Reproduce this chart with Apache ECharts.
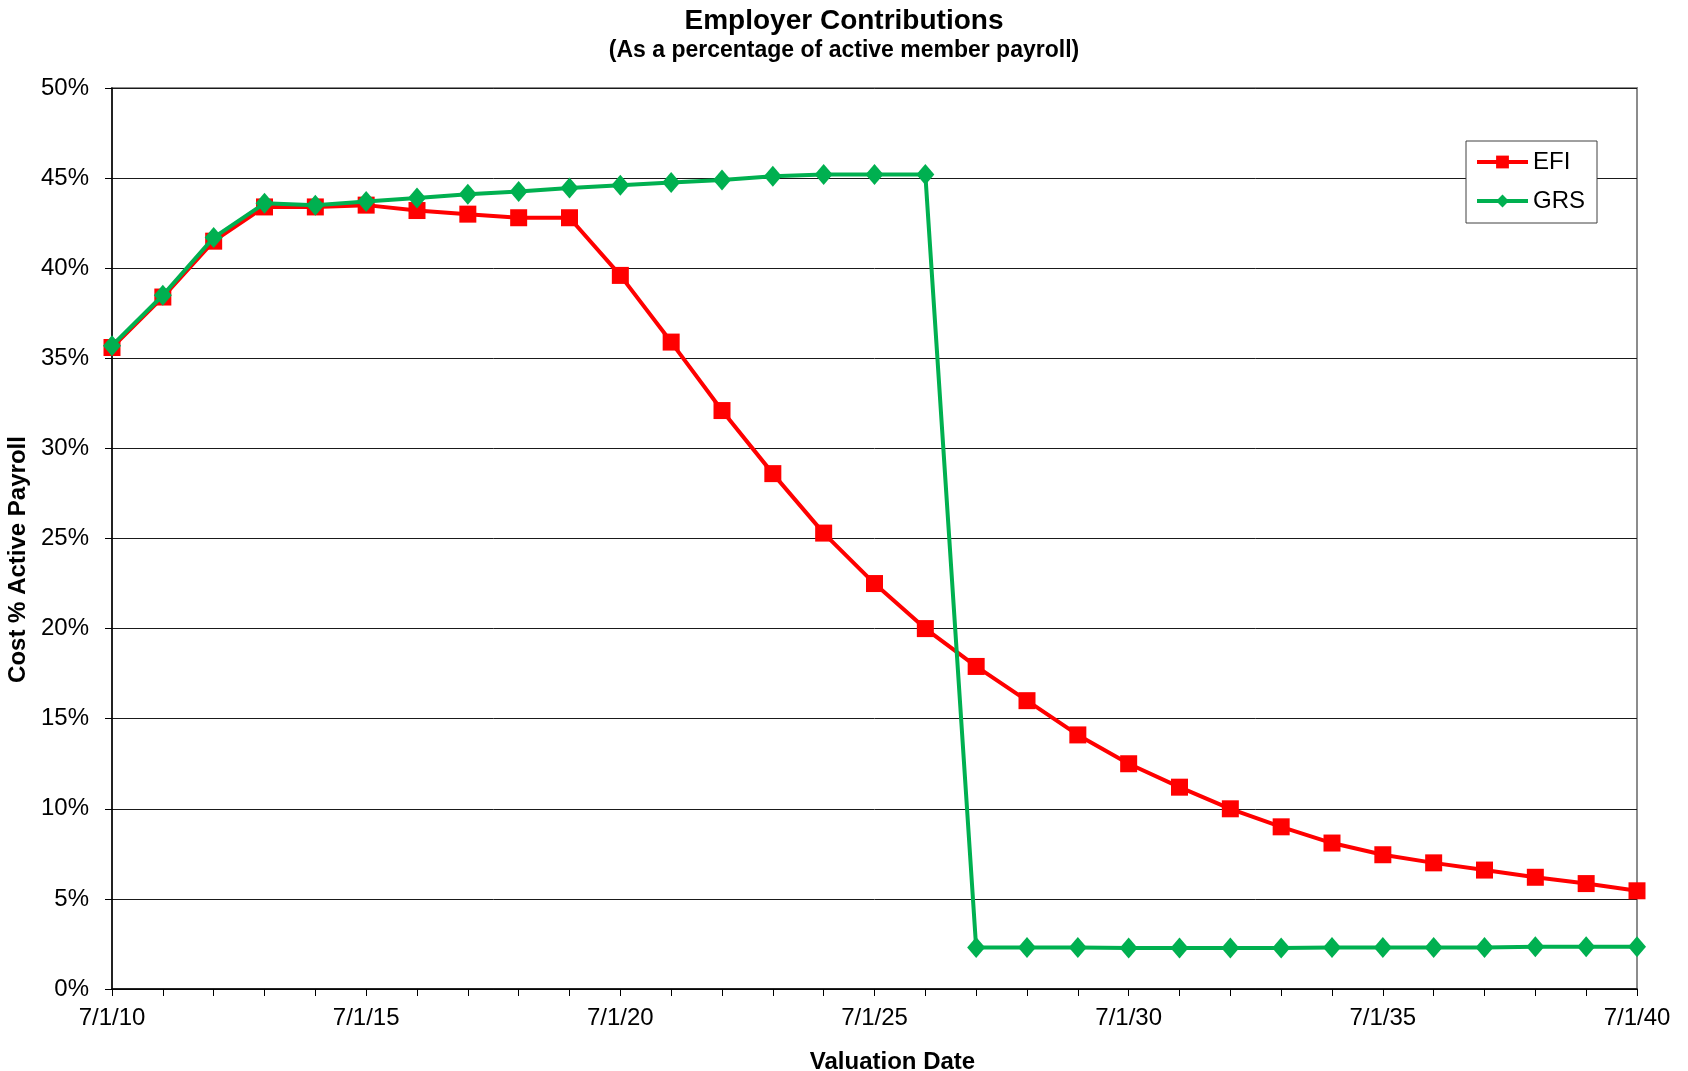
<!DOCTYPE html>
<html>
<head>
<meta charset="utf-8">
<script src="https://cdn.jsdelivr.net/npm/echarts@6/dist/echarts.min.js"></script>
<style>
html,body{margin:0;padding:0;background:#fff;}
#chart{width:1688px;height:1071px;}
</style>
</head>
<body>
<div id="chart"></div>
<script>
var categories = ['7/1/10','7/1/11','7/1/12','7/1/13','7/1/14','7/1/15','7/1/16','7/1/17','7/1/18','7/1/19',
  '7/1/20','7/1/21','7/1/22','7/1/23','7/1/24','7/1/25','7/1/26','7/1/27','7/1/28','7/1/29',
  '7/1/30','7/1/31','7/1/32','7/1/33','7/1/34','7/1/35','7/1/36','7/1/37','7/1/38','7/1/39','7/1/40'];
var efi = [35.6, 38.4, 41.5, 43.4, 43.4, 43.5, 43.2, 43.0, 42.8, 42.8,
  39.6, 35.9, 32.1, 28.6, 25.3, 22.5, 20.0, 17.9, 16.0, 14.1,
  12.5, 11.2, 10.0, 9.0, 8.1, 7.45, 7.0, 6.6, 6.2, 5.85, 5.45];
var grs = [35.7, 38.5, 41.7, 43.6, 43.5, 43.7, 43.9, 44.1, 44.25, 44.45,
  44.6, 44.75, 44.9, 45.1, 45.2, 45.2, 45.2, 2.3, 2.3, 2.3,
  2.27, 2.27, 2.27, 2.27, 2.3, 2.3, 2.3, 2.3, 2.35, 2.35, 2.35];
var yTicks = { min: 0, max: 50, interval: 5 };

var FONT = 'Liberation Sans, Arial, sans-serif';
var chart = echarts.init(document.getElementById('chart'), null, {renderer: 'canvas'});
chart.setOption({
  backgroundColor: '#ffffff',
  animation: false,
  title: [
    { text: 'Employer Contributions', left: 'center', top: 2,
      textStyle: { fontFamily: FONT, fontSize: 28, fontWeight: 'bold', color: '#000' } },
    { text: '(As a percentage of active member payroll)', left: 'center', top: 34,
      textStyle: { fontFamily: FONT, fontSize: 23, fontWeight: 'bold', color: '#000' } }
  ],
  legend: {
    orient: 'vertical',
    left: 1466, top: 141,
    padding: [9, 12, 10, 9],
    itemGap: 15,
    itemWidth: 51,
    itemHeight: 16,
    borderColor: '#404040',
    borderWidth: 1,
    backgroundColor: '#fff',
    lineStyle: { width: 4 },
    textStyle: { fontFamily: FONT, fontSize: 24, color: '#000' },
    data: ['EFI', 'GRS']
  },
  grid: {
    left: 112, right: 51, top: 88, bottom: 82,
    outerBoundsMode: 'none',
    containLabel: false,
    show: true, borderColor: '#8c8c8c', borderWidth: 2, backgroundColor: '#fff'
  },
  xAxis: {
    type: 'category',
    data: categories,
    boundaryGap: false,
    name: 'Valuation Date',
    nameLocation: 'middle',
    nameGap: 61,
    nameTextStyle: { fontFamily: FONT, fontSize: 24, fontWeight: 'bold', color: '#000', padding: [0, 0, 0, 36] },
    axisLine: { show: true, lineStyle: { color: '#000', width: 1.5 } },
    axisTick: { show: true, interval: 0, length: 7, lineStyle: { color: '#000', width: 1 } },
    axisLabel: { interval: 4, margin: 17, fontFamily: FONT, fontSize: 24, color: '#000' },
    splitLine: { show: false }
  },
  yAxis: {
    type: 'value',
    min: yTicks.min, max: yTicks.max, interval: yTicks.interval,
    name: 'Cost % Active Payroll',
    nameLocation: 'middle',
    nameRotate: 90,
    nameGap: 78,
    nameTextStyle: { fontFamily: FONT, fontSize: 24, fontWeight: 'bold', color: '#000', padding: [0, 42, 0, 0] },
    axisLine: { show: true, lineStyle: { color: '#000', width: 1.5 } },
    axisTick: { show: true, length: 7, lineStyle: { color: '#000', width: 1 } },
    axisLabel: { margin: 23, fontFamily: FONT, fontSize: 24, color: '#000', formatter: '{value}%' },
    splitLine: { show: true, lineStyle: { color: '#1a1a1a', width: 1 } }
  },
  series: [
    {
      name: 'EFI', type: 'line', data: efi,
      symbol: 'rect', symbolSize: 17, showAllSymbol: true,
      lineStyle: { color: '#ff0000', width: 4 },
      itemStyle: { color: '#ff0000' },
      z: 3
    },
    {
      name: 'GRS', type: 'line', data: grs,
      symbol: 'diamond', symbolSize: [18, 21], showAllSymbol: true,
      lineStyle: { color: '#00b050', width: 4 },
      itemStyle: { color: '#00b050' },
      z: 4
    }
  ]
});
</script>
</body>
</html>
